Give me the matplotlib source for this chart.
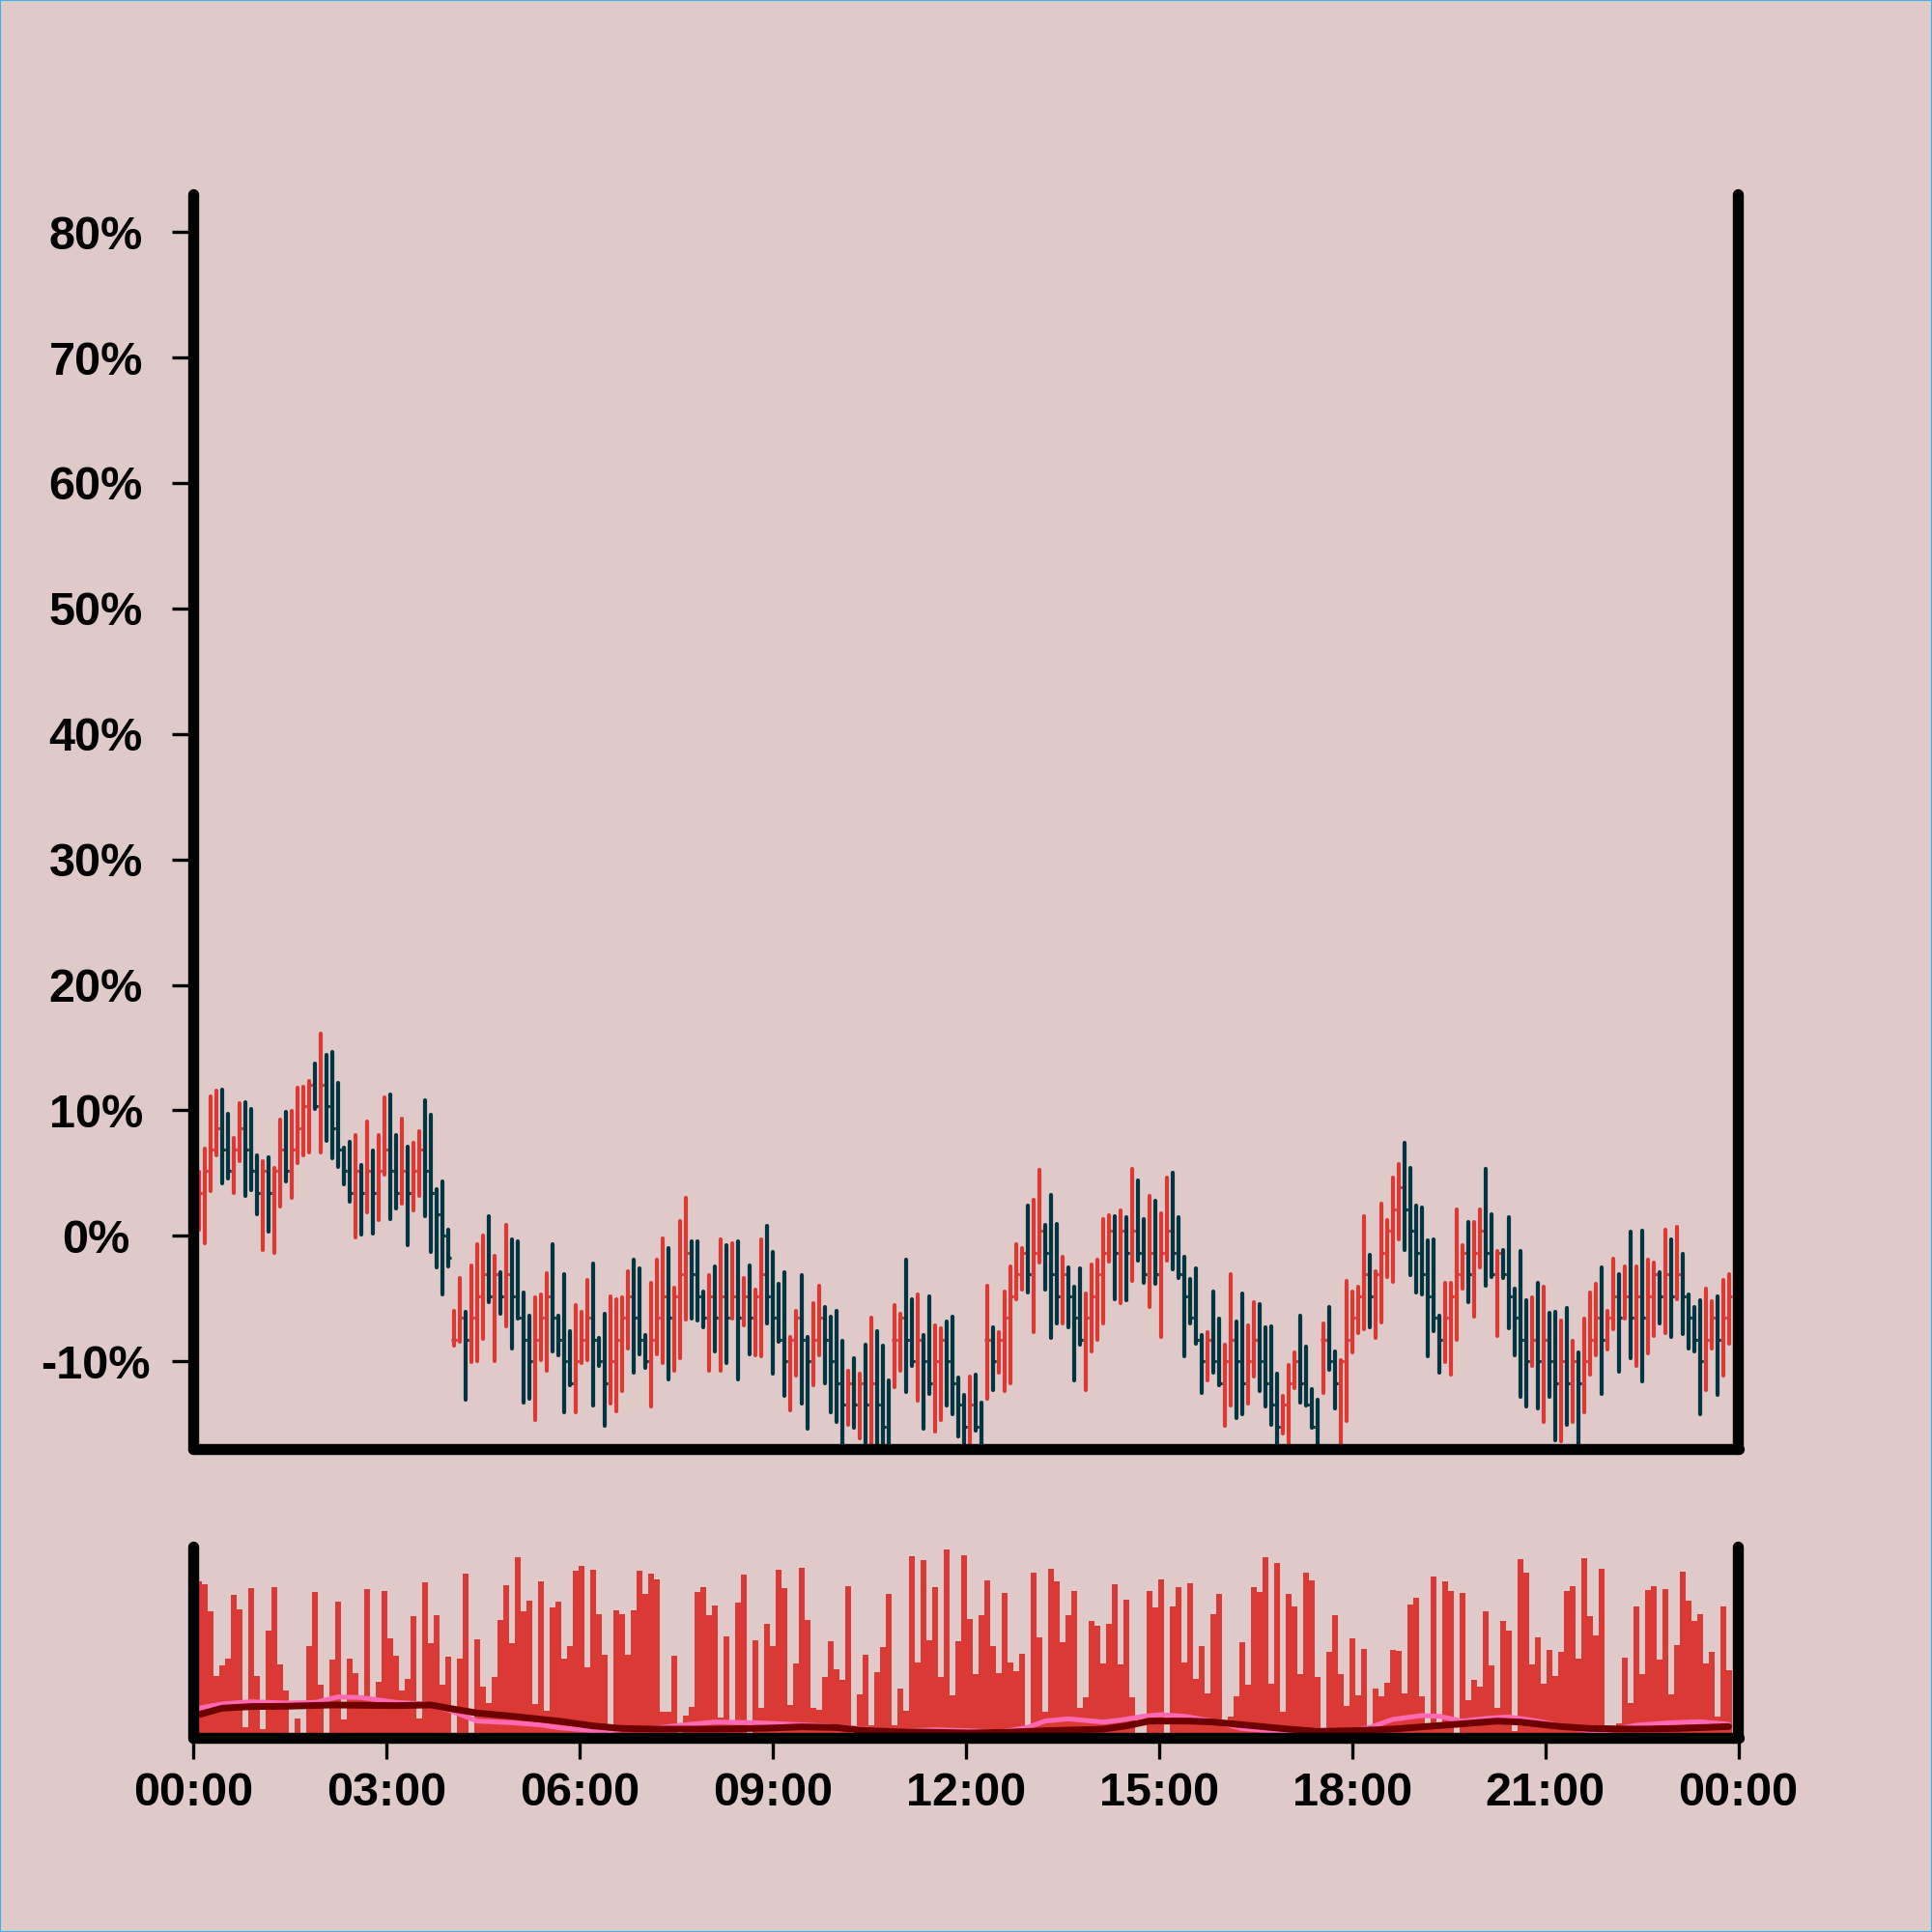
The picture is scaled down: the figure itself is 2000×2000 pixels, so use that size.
import matplotlib
matplotlib.use("Agg")
import matplotlib.pyplot as plt
from matplotlib.collections import LineCollection
from matplotlib.patches import Rectangle
import numpy as np

# price change (%) per bar
closes = [
    3.44, 5.16, 6.88, 8.6, 6.88, 5.16, 6.88, 8.6, 6.88, 5.16,
    3.44, 5.16, 3.44, 5.16, 6.88, 5.16, 6.88, 8.6, 10.32, 12.04,
    10.32, 12.04, 10.32, 8.6, 6.88, 5.16, 3.44, 5.16, 3.44, 5.16,
    3.44, 5.16, 6.88, 5.16, 3.44, 5.16, 3.44, 5.16, 6.88, 5.16,
    3.44, 1.72, 0.0, -1.72, -8.27, -6.54, -8.27, -6.54, -4.81, -3.08,
    -4.81, -3.08, -4.81, -3.08, -4.81, -6.54, -8.27, -10.0, -8.27, -6.54,
    -4.81, -6.54, -8.27, -10.0, -11.73, -10.0, -8.27,
    -6.54, -8.27, -10.0, -11.73, -10.0, -8.27, -6.54, -4.81, -6.54, -8.27,
    -10.0, -8.27, -6.54, -4.81, -6.54, -4.81, -3.08, -1.35, -3.08, -4.81,
    -6.54, -4.81, -6.54, -4.81, -6.54, -4.81, -6.54, -4.81, -6.54, -4.81,
    -3.08, -4.81, -6.54, -8.27, -10.0, -8.27, -6.54, -8.27, -10.0, -8.27,
    -6.54, -8.27, -10.0, -11.73, -13.46, -11.73, -13.46, -11.73, -13.46, -11.73,
    -13.46, -15.19, -16.92, -8.27, -6.54, -8.27, -10.0, -8.27, -10.0, -11.73,
    -10.0, -8.27, -10.0, -11.73, -13.46, -15.19,
    -13.46, -15.19, -16.92, -8.27, -10.0, -8.27, -6.54, -4.81, -3.08, -1.35,
    -3.08, -1.35, 0.38, -1.35, -3.08, -4.81, -3.08, -4.81, -6.54, -8.27,
    -6.54, -4.81, -3.08, -1.35, 0.38, -1.35, 0.38, -1.35, 0.38, -1.35,
    -3.08, -1.35, -3.08, -1.35, 0.38, -1.35, -3.08, -4.81, -6.54, -8.27,
    -10.0, -8.27, -10.0, -11.73, -10.0, -8.27, -10.0, -11.73, -10.0, -8.27,
    -10.0, -11.73, -13.46, -15.19, -13.46, -11.73, -10.0, -11.73, -13.46, -15.19,
    -16.92, -8.27, -10.0, -11.73, -10.0, -8.27, -6.54,
    -4.81, -3.08, -4.81, -3.08, -1.35, 0.38, 2.12, 3.85, 2.12, 0.38,
    -1.35, -3.08, -4.81, -6.54, -8.27, -6.54, -4.81, -3.08, -1.35, -3.08,
    -1.35, 0.38, -1.35, -3.08, -1.35, -3.08, -4.81, -6.54, -8.27, -10.0,
    -8.27, -10.0, -8.27, -10.0, -11.73, -10.0, -11.73, -10.0, -11.73, -10.0,
    -8.27, -6.54, -8.27, -6.54, -4.81, -6.54, -4.81, -6.54, -4.81, -6.54,
    -4.81, -3.08, -4.81, -3.08, -4.81, -3.08, -4.81, -6.54, -8.27, -10.0,
    -8.27, -6.54, -8.27, -6.54, -4.81,
]
highs = [
    5.13, 6.92, 11.08, 11.59, 11.62, 9.74, 7.77, 10.59, 10.64, 10.08,
    6.41, 5.95, 6.23, 5.38, 9.23, 9.87, 9.95, 11.79, 11.85, 12.31,
    13.72, 16.1, 14.41, 14.62, 12.18, 7.0, 7.51, 8.03, 5.64, 9.1,
    6.79, 8.03, 11.03, 11.28, 8.0, 9.36, 7.13, 7.44, 8.33, 10.82,
    9.62, 3.72, 4.36, 0.51, -5.95, -3.38, -6.03, -2.36, -0.69, 0.05,
    1.54, -1.59, -2.9, 0.9, -0.26, -0.46, -4.49, -6.36, -4.92, -4.67,
    -2.95, -0.64, -6.33, -3.08, -7.62, -5.51, -6.03,
    -3.54, -2.23, -8.15, -6.23, -4.79, -5.05, -4.92, -2.82, -1.92, -2.62,
    -7.9, -3.72, -1.87, -0.18, -0.95, -4.15, 1.21, 3.03, -0.46, -0.46,
    -4.44, -3.13, -2.44, -0.26, -0.72, -0.59, -0.44, -3.33, -2.38, -4.28,
    -0.31, 0.77, -1.28, -3.85, -2.9, -8.08, -5.95, -3.13, -8.08, -5.38,
    -3.97, -5.64, -6.41, -5.95, -8.33, -10.72, -9.79, -10.95, -8.64, -6.49,
    -7.62, -8.72, -11.49, -5.51, -6.21, -1.92, -5.08, -4.67, -7.9, -4.82,
    -7.13, -7.36, -6.79, -6.41, -11.33, -12.69,
    -11.23, -11.08, -13.28, -3.97, -7.31, -7.69, -4.41, -2.44, -0.64, -0.95,
    2.44, 2.87, 5.26, 0.9, 3.28, 0.97, -1.67, -2.51, -4.03, -2.56,
    -4.6, -2.26, -1.92, 1.36, 1.67, 1.54, 2.05, 1.49, 5.33, 4.41,
    1.36, 3.21, 2.82, 1.79, 4.62, 5.0, 1.49, -1.67, -3.46, -2.56,
    -7.87, -7.64, -4.41, -6.62, -8.64, -3.03, -6.79, -4.62, -7.1, -5.31,
    -5.46, -7.26, -7.18, -10.95, -12.77, -10.26, -9.28, -6.33, -8.85, -12.23,
    -13.08, -7.0, -5.69, -9.18, -9.87, -3.59, -4.41,
    -4.05, 1.59, -1.49, -2.82, 2.56, 1.23, 4.62, 5.69, 7.44, 5.38,
    2.44, 2.23, -0.38, -0.31, -6.36, -3.72, -3.72, 2.1, -0.77, 1.08,
    1.1, 2.1, 5.33, 1.72, -1.21, -1.1, 1.49, -4.23, -1.23, -5.13,
    -4.87, -3.72, -4.05, -6.1, -6.08, -6.72, -5.77, -8.33, -9.31, -6.62,
    -4.49, -3.85, -2.49, -5.95, -1.85, -3.03, -2.44, 0.33, -2.44, 0.38,
    -1.92, -2.13, -2.9, 0.46, -0.26, 0.69, -1.41, -4.67, -5.64, -5.13,
    -4.18, -5.21, -4.79, -3.54, -3.03,
]
lows = [
    0.51, -0.56, 3.54, 6.41, 4.18, 4.56, 3.41, 5.97, 3.15, 3.64,
    1.74, -1.15, 0.31, -1.33, 2.31, 4.36, 3.03, 5.77, 6.41, 6.62,
    10.1, 6.62, 7.56, 6.15, 5.51, 4.1, 2.69, -0.13, 0.13, 1.87,
    0.21, 1.28, 4.87, 1.36, 2.18, 2.56, -0.77, 2.05, 3.15, 1.54,
    -1.28, -2.49, -4.67, -2.44, -8.77, -8.41, -13.08, -10.05, -9.95, -8.21,
    -5.26, -9.95, -6.23, -7.18, -8.97, -6.62, -13.33, -13.0, -14.67, -9.92,
    -10.77, -9.23, -9.54, -14.1, -11.92, -14.1, -10.13,
    -9.87, -13.54, -10.33, -15.13, -13.38, -13.97, -12.36, -8.97, -10.9, -9.41,
    -10.51, -13.59, -9.44, -10.13, -11.46, -10.77, -9.79, -6.67, -6.6, -6.74,
    -7.26, -10.77, -9.23, -10.72, -10.13, -6.62, -11.46, -7.13, -9.44, -9.49,
    -9.62, -7.0, -10.95, -8.46, -12.77, -13.92, -11.15, -13.38, -15.38, -11.9,
    -9.49, -11.79, -14.1, -14.82, -17.5, -15.08, -15.26, -16.15, -17.5, -18.0,
    -17.5, -18.0, -19.0, -12.05, -10.72, -12.44, -10.33, -13.15, -15.38, -12.62,
    -15.64, -14.67, -13.54, -14.18, -15.95, -17.5,
    -17.3, -15.51, -18.0, -12.95, -12.31, -10.9, -12.36, -11.72, -5.05, -4.28,
    -4.49, -7.69, -2.1, -4.28, -8.13, -7.0, -7.0, -7.31, -11.54, -8.64,
    -12.26, -9.23, -8.28, -6.97, -2.05, -5.08, -5.33, -5.13, -3.59, -2.0,
    -3.72, -5.64, -3.85, -8.08, -1.97, -2.69, -3.38, -9.62, -6.97, -8.59,
    -12.56, -11.49, -10.9, -11.87, -15.13, -13.5, -14.49, -14.23, -13.38, -11.23,
    -12.38, -13.59, -15.08, -17.5, -15.77, -17.5, -12.13, -13.33, -13.54, -15.31,
    -18.0, -12.56, -10.64, -13.72, -17.5, -14.74, -9.28,
    -7.77, -7.44, -7.31, -8.15, -6.87, -3.28, -3.64, -0.26, -1.15, -3.13,
    -4.49, -4.69, -9.62, -7.56, -10.9, -10.05, -11.03, -8.28, -4.23, -5.31,
    -6.41, -2.51, -3.97, -3.3, -7.95, -3.33, -7.36, -9.54, -12.82, -13.59,
    -10.38, -13.72, -14.82, -12.82, -16.28, -16.41, -15.08, -14.87, -17.3, -14.03,
    -11.03, -9.54, -12.62, -9.03, -7.44, -10.85, -6.6, -9.74, -10.38, -11.59,
    -9.36, -8.0, -7.0, -7.77, -8.08, -5.05, -7.82, -8.97, -9.23, -14.23,
    -12.31, -8.97, -12.69, -11.15, -8.59,
]
first_open = 1.72
gap_bars = [45, 121, 137, 195]   # bars that open where they close (after a jump)

volume = [
    485, 477, 392, 192, 224, 247, 444, 400, 34, 464,
    192, 27, 332, 467, 227, 147, 10, 59, 10, 284,
    452, 164, 10, 243, 422, 56, 247, 202, 120, 461,
    114, 174, 457, 310, 255, 147, 182, 377, 60, 482,
    295, 382, 164, 252, 10, 247, 509, 10, 307, 159,
    109, 190, 367, 473, 294, 562, 392, 427, 106, 487,
    84, 404, 422, 247, 285, 520, 534, 220, 522, 385,
    257, 10, 395, 384, 257, 395, 519, 447, 510, 492,
    82, 82, 255, 10, 70, 95, 452, 467, 382, 411,
    62, 314, 49, 419, 507, 10, 302, 94, 354, 284,
    522, 464, 102, 232, 527, 365, 92, 87, 190, 300,
    212, 180, 470, 10, 134, 259, 40, 205, 282, 447,
    40, 153, 84, 565, 235, 552, 302, 469, 189, 584,
    132, 300, 567, 369, 197, 382, 489, 285, 202, 449,
    234, 207, 260, 39, 512, 312, 80, 525, 487, 297,
    382, 457, 92, 127, 362, 347, 232, 354, 477, 229,
    429, 127, 10, 10, 455, 405, 492, 10, 409, 467,
    234, 479, 182, 285, 139, 384, 447, 52, 67, 129,
    297, 165, 467, 452, 560, 169, 542, 80, 447, 407,
    199, 514, 490, 190, 22, 267, 382, 197, 100, 309,
    132, 277, 10, 152, 130, 172, 272, 269, 139, 415,
    434, 130, 37, 500, 37, 487, 455, 10, 450, 117,
    180, 159, 392, 225, 92, 362, 334, 22, 555, 512,
    227, 312, 169, 274, 192, 267, 457, 472, 247, 557,
    379, 319, 525, 37, 37, 45, 249, 109, 407, 197,
    459, 472, 242, 462, 134, 287, 515, 425, 362, 385,
    232, 267, 67, 409, 210,
]

# the two averages in the volume panel, sampled at bar numbers
pink_bars = [1, 5, 10, 16, 21, 25, 29, 35, 40, 44, 49, 55, 60, 63, 69, 74, 80, 84,
             90, 97, 103, 109, 115, 121, 128, 134, 139, 144, 147, 151, 157, 160, 164,
             167, 171, 176, 181, 188, 195, 200, 203, 207, 212, 215, 219, 223, 227,
             232, 236, 241, 244, 249, 255, 260, 265]
pink_vals = [92, 105, 112, 108, 110, 127, 125, 110, 105, 87, 52, 47, 40, 32, 22, 25, 30, 39,
             49, 47, 42, 37, 29, 20, 25, 22, 17, 32, 52, 59, 49, 55, 67,
             72, 67, 52, 29, 19, 15, 22, 32, 57, 69, 67, 52, 60, 65,
             52, 37, 22, 22, 39, 47, 50, 42]
dark_bars = [1, 5, 10, 16, 24, 35, 41, 44, 49, 55, 63, 69, 74, 80, 90, 99, 105, 111, 115,
             121, 128, 134, 140, 147, 157, 161, 165, 172, 176, 182, 189, 194, 200, 207,
             212, 218, 225, 229, 236, 241, 249, 256, 265]
dark_vals = [72, 92, 97, 98, 102, 100, 102, 92, 77, 67, 52, 37, 29, 27, 27, 30, 34, 32, 24,
             19, 17, 15, 17, 22, 27, 37, 52, 52, 49, 39, 27, 20, 22, 27,
             34, 42, 52, 49, 35, 29, 27, 29, 35]

y_ticks = [-10, 0, 10, 20, 30, 40, 50, 60, 70, 80]
x_ticks = [0, 180, 360, 540, 720, 900, 1080, 1260, 1440]
x_labels = ["00:00", "03:00", "06:00", "09:00", "12:00", "15:00", "18:00", "21:00", "00:00"]

bg = "#dfc9c9"
up_color = "#db3a34"
down_color = "#003642"
step = 5.4  # minutes between bars

closes = np.array(closes)
highs = np.array(highs)
lows = np.array(lows)
opens = np.r_[first_open, closes[:-1]]
for b in gap_bars:
    opens[b - 1] = closes[b - 1]
t = np.arange(1, len(closes) + 1) * step
colors = [up_color if c >= o else down_color for o, c in zip(opens, closes)]

plt.rcParams["font.family"] = ["Liberation Sans", "DejaVu Sans"]
plt.rcParams["font.weight"] = "bold"

fig = plt.figure(figsize=(20, 20), dpi=100)
fig.patch.set_facecolor(bg)
ax = fig.add_axes([0.1, 0.25025, 0.79975, 0.6495])
axv = fig.add_axes([0.1, 0.1005, 0.79975, 0.09925])

for a in (ax, axv):
    a.set_facecolor(bg)
    a.set_xlim(0, 1440)
    a.spines["top"].set_visible(False)
    for s in ("left", "right", "bottom"):
        a.spines[s].set_linewidth(8.2)
        a.spines[s].set_color("black")
        a.spines[s].set_capstyle("round")

# OHLC bars
half = 2.7
vert = [[(x, l), (x, h)] for x, l, h in zip(t, lows, highs)]
ticks = [[(x - half, o), (x, o)] for x, o in zip(t, opens)] + \
        [[(x, c), (x + half, c)] for x, c in zip(t, closes)]
ax.add_collection(LineCollection(vert, colors=colors, linewidths=3.0, capstyle="round"))
ax.add_collection(LineCollection(ticks, colors=colors + colors, linewidths=2.2))
ax.set_ylim(-16.95, 83.05)
ax.set_yticks(y_ticks)
ax.set_yticklabels([f"{v}%" for v in y_ticks])
ax.set_xticks([])
ax.tick_params(axis="y", length=15.5, width=2.4, pad=57, labelsize=35)
for lab in ax.get_yticklabels():
    lab.set_ha("center")
    lab.set_fontweight("bold")

# volume
axv.bar(t, volume, width=step, color=up_color, linewidth=0)
axv.plot(np.array(pink_bars) * step, pink_vals, color="#ff69b4", lw=3.6,
         solid_capstyle="round", solid_joinstyle="round")
axv.plot(np.array(dark_bars) * step, dark_vals, color="#6e0000", lw=5,
         solid_capstyle="round", solid_joinstyle="round")
axv.set_ylim(0, 595)
axv.set_yticks([])
axv.set_xticks(x_ticks)
axv.set_xticklabels(x_labels)
axv.tick_params(axis="x", length=15.5, width=2.4, pad=10, labelsize=35)
for lab in axv.get_xticklabels():
    lab.set_fontweight("bold")

fig.add_artist(Rectangle((0, 0), 1, 1, transform=fig.transFigure, fill=False,
                         edgecolor="#3ab4e6", linewidth=1.5))

fig.savefig("out.png", dpi=100, facecolor=bg)
